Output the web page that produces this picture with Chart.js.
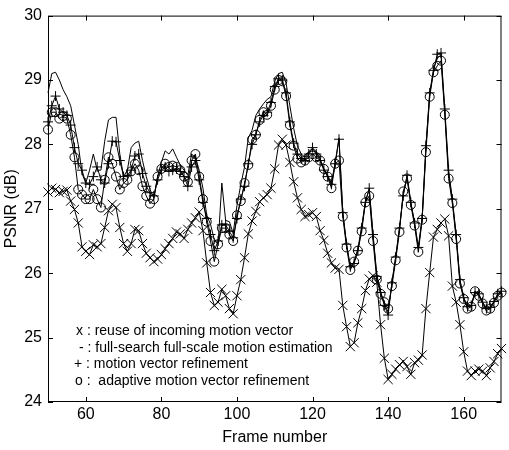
<!DOCTYPE html>
<html>
<head>
<meta charset="utf-8">
<title>PSNR per frame</title>
<script src="https://cdn.jsdelivr.net/npm/chart.js@4.4.1/dist/chart.umd.min.js"></script>
<style>
  html, body { margin: 0; padding: 0; background: #fff; }
  canvas { display: block; }
</style>
</head>
<body>
<canvas id="psnrChart" width="509" height="450"></canvas>
<script>
// frame numbers (x axis)
const frames = [
  50, 51, 52, 53, 54, 55, 56, 57, 58, 59, 60, 61, 62, 63, 64, 65, 66, 67, 68, 69,
  70, 71, 72, 73, 74, 75, 76, 77, 78, 79, 80, 81, 82, 83, 84, 85, 86, 87, 88, 89,
  90, 91, 92, 93, 94, 95, 96, 97, 98, 99, 100, 101, 102, 103, 104, 105, 106, 107, 108, 109,
  110, 111, 112, 113, 114, 115, 116, 117, 118, 119, 120, 121, 122, 123, 124, 125, 126, 127, 128, 129,
  130, 131, 132, 133, 134, 135, 136, 137, 138, 139, 140, 141, 142, 143, 144, 145, 146, 147, 148, 149,
  150, 151, 152, 153, 154, 155, 156, 157, 158, 159, 160, 161, 162, 163, 164, 165, 166, 167, 168, 169,
  170
];

// x : reuse of incoming motion vector
const reuseMv = [
  27.26, 27.32, 27.30, 27.25, 27.27, 27.29, 27.12, 26.99, 26.78, 26.41, 26.34, 26.29, 26.44, 26.41, 26.46, 26.71, 26.97, 27.07, 27.02, 26.71,
  26.46, 26.34, 26.46, 26.68, 26.66, 26.46, 26.31, 26.24, 26.18, 26.22, 26.29, 26.38, 26.46, 26.54, 26.64, 26.61, 26.54, 26.68, 26.78, 26.86,
  26.95, 26.66, 26.16, 25.70, 25.50, 25.55, 25.75, 25.65, 25.45, 25.37, 25.65, 25.90, 26.24, 26.61, 26.81, 26.96, 27.11, 27.17, 27.22, 27.32,
  27.62, 27.99, 28.08, 27.99, 27.72, 27.42, 27.17, 26.99, 26.88, 26.91, 26.94, 26.88, 26.66, 26.51, 26.31, 26.16, 26.08, 26.06, 25.50, 25.17,
  24.86, 24.92, 25.23, 25.45, 25.73, 25.91, 25.96, 25.86, 25.20, 24.68, 24.35, 24.43, 24.51, 24.58, 24.63, 24.55, 24.43, 24.61, 24.65, 24.73,
  25.45, 26.01, 26.56, 26.68, 26.78, 26.84, 26.58, 25.80, 25.55, 25.20, 24.78, 24.48, 24.41, 24.48, 24.51, 24.48, 24.41, 24.53, 24.63, 24.75,
  24.83
];

// - : full-search full-scale motion estimation
const fullSearch = [
  28.80, 29.10, 29.12, 29.00, 28.85, 28.74, 28.60, 28.30, 28.00, 27.55, 27.40, 27.60, 27.85, 27.60, 27.60, 28.05, 28.38, 28.42, 28.42, 27.85,
  27.50, 27.60, 27.95, 28.02, 28.05, 27.75, 27.50, 27.30, 27.17, 27.50, 27.72, 27.90, 27.85, 27.93, 27.80, 27.68, 27.60, 27.52, 27.85, 27.80,
  27.60, 27.32, 26.90, 26.76, 26.52, 26.45, 27.40, 26.82, 26.80, 26.62, 27.05, 27.37, 27.65, 28.10, 28.22, 28.45, 28.55, 28.63, 28.70, 28.74,
  28.98, 29.10, 29.12, 28.95, 28.60, 28.25, 27.98, 27.85, 27.80, 27.88, 27.90, 27.88, 27.78, 27.62, 27.52, 27.40, 27.72, 28.10, 26.95, 26.45,
  26.10, 26.18, 26.38, 26.72, 27.12, 27.30, 26.60, 25.98, 25.72, 25.52, 25.40, 25.85, 26.25, 26.70, 27.22, 27.50, 27.10, 26.78, 26.38, 26.85,
  27.95, 28.78, 29.15, 29.35, 29.38, 28.50, 27.55, 27.12, 26.58, 25.88, 25.62, 25.48, 25.50, 25.72, 25.66, 25.55, 25.45, 25.47, 25.56, 25.67,
  25.72
];

// + : motion vector refinement
const mvRefine = [
  28.35, 28.60, 28.75, 28.55, 28.50, 28.45, 28.30, 27.95, 27.70, 27.60, 27.40, 27.38, 27.50, 27.65, 27.45, 27.40, 27.70, 28.05, 28.04, 27.75,
  27.50, 27.52, 27.60, 27.82, 27.85, 27.55, 27.35, 27.25, 27.20, 27.45, 27.60, 27.65, 27.58, 27.60, 27.62, 27.58, 27.50, 27.35, 27.65, 27.75,
  27.45, 27.10, 26.85, 26.60, 26.35, 26.50, 26.75, 26.75, 26.65, 26.55, 26.85, 27.15, 27.35, 27.70, 28.00, 28.15, 28.35, 28.45, 28.50, 28.65,
  28.90, 29.02, 29.00, 28.80, 28.35, 28.02, 27.85, 27.78, 27.75, 27.85, 27.95, 27.85, 27.75, 27.60, 27.50, 27.38, 27.70, 28.08, 26.94, 26.45,
  26.10, 26.15, 26.35, 26.70, 27.10, 27.32, 26.60, 25.95, 25.70, 25.50, 25.35, 25.85, 26.25, 26.70, 27.20, 27.52, 27.10, 26.78, 26.40, 26.85,
  27.98, 28.80, 29.15, 29.40, 29.42, 28.55, 27.60, 27.15, 26.60, 25.90, 25.62, 25.48, 25.50, 25.70, 25.68, 25.55, 25.45, 25.47, 25.56, 25.68,
  25.72
];

// o : adaptive motion vector refinement
const adaptiveRefine = [
  28.23, 28.50, 28.50, 28.40, 28.44, 28.40, 28.15, 27.80, 27.30, 27.22, 27.15, 27.15, 27.30, 27.15, 27.02, 27.45, 27.80, 27.70, 27.50, 27.30,
  27.40, 27.45, 27.58, 27.70, 27.60, 27.35, 27.20, 27.08, 27.15, 27.50, 27.62, 27.70, 27.65, 27.67, 27.65, 27.60, 27.50, 27.42, 27.75, 27.85,
  27.50, 27.15, 26.80, 26.50, 26.18, 26.45, 26.70, 26.70, 26.60, 26.50, 26.90, 27.12, 27.40, 27.68, 28.08, 28.15, 28.38, 28.50, 28.46, 28.60,
  28.85, 29.00, 28.98, 28.75, 28.30, 27.98, 27.78, 27.72, 27.75, 27.80, 27.85, 27.80, 27.75, 27.62, 27.50, 27.32, 27.70, 27.75, 26.88, 26.40,
  26.05, 26.18, 26.35, 26.65, 27.10, 27.20, 26.50, 25.90, 25.68, 25.55, 25.45, 25.80, 26.20, 26.64, 27.27, 27.47, 27.06, 26.74, 26.33, 26.83,
  27.88, 28.74, 29.12, 29.22, 29.30, 28.46, 27.47, 27.09, 26.53, 25.84, 25.60, 25.45, 25.48, 25.72, 25.65, 25.53, 25.42, 25.45, 25.54, 25.65,
  25.70
];

const xTickLabels = [60, 80, 100, 120, 140, 160];
const yTickLabels = [24, 25, 26, 27, 28, 29, 30];

const legendLines = [
  "x : reuse of incoming motion vector",
  "- : full-search full-scale motion estimation",
  "+ : motion vector refinement",
  "o :  adaptive motion vector refinement",
];

const FONT = "'Liberation Sans', Arial, Helvetica, sans-serif";

// zet een reeks om naar {x, y} punten
const toPoints = (values) => frames.map((f, i) => ({ x: f, y: values[i] }));

// kader met tickjes naar binnen + legende tekst (matlab stijl)
const boxPlugin = {
  id: "box",
  afterDatasetsDraw(chart) {
    const { ctx, chartArea: a, scales } = chart;
    const tick = 5;
    ctx.save();
    ctx.strokeStyle = "#000";
    ctx.lineWidth = 1;
    ctx.strokeRect(a.left + 0.5, a.top + 0.5, a.right - a.left - 1, a.bottom - a.top - 1);

    ctx.beginPath();
    for (let v of xTickLabels) {
      const px = Math.round(scales.x.getPixelForValue(v)) + 0.5;
      ctx.moveTo(px, a.bottom);
      ctx.lineTo(px, a.bottom - tick);
      ctx.moveTo(px, a.top);
      ctx.lineTo(px, a.top + tick);
    }
    for (let v of yTickLabels) {
      const py = Math.round(scales.y.getPixelForValue(v)) + 0.5;
      ctx.moveTo(a.left, py);
      ctx.lineTo(a.left + tick, py);
      ctx.moveTo(a.right, py);
      ctx.lineTo(a.right - tick, py);
    }
    ctx.stroke();

    // legende
    ctx.fillStyle = "#000";
    ctx.font = "14px " + FONT;
    ctx.textBaseline = "middle";
    const lx = [76, 79, 74, 75];
    const ly = [331, 348, 364.5, 381];
    legendLines.forEach((line, i) => ctx.fillText(line, lx[i], ly[i]));
    ctx.restore();
  },
};

const drawChart = () => {
  Chart.defaults.font.family = FONT;
  Chart.defaults.font.size = 16;
  Chart.defaults.color = "#000";

  const common = {
    borderColor: "#000",
    backgroundColor: "rgba(0,0,0,0)",
    borderWidth: 1,
    pointBorderWidth: 1,
    pointBorderColor: "#000",
    pointBackgroundColor: "rgba(0,0,0,0)",
    tension: 0,
    clip: 8,
  };

  const ctx = document.getElementById("psnrChart");
  new Chart(ctx, {
    type: "line",
    data: {
      datasets: [
        { ...common, label: "reuse", data: toPoints(reuseMv), pointStyle: "crossRot", pointRadius: 6.5 },
        { ...common, label: "full-search", data: toPoints(fullSearch), pointRadius: 0 },
        { ...common, label: "refinement", data: toPoints(mvRefine), pointStyle: "cross", pointRadius: 5 },
        { ...common, label: "adaptive", data: toPoints(adaptiveRefine), pointStyle: "circle", pointRadius: 4.5 },
      ],
    },
    options: {
      responsive: false,
      animation: false,
      devicePixelRatio: 1,
      layout: { padding: { top: 14, right: 2, left: 0, bottom: 0 } },
      plugins: { legend: { display: false }, tooltip: { enabled: false } },
      scales: {
        x: {
          type: "linear",
          min: 50,
          max: 170,
          afterBuildTicks: (s) => { s.ticks = xTickLabels.map((v) => ({ value: v })); },
          afterFit: (s) => { s.height = 48; },
          grid: { display: false, drawTicks: false },
          border: { display: false },
          ticks: { padding: 3, maxRotation: 0 },
          title: { display: true, text: "Frame number", padding: { top: 0, bottom: 3 } },
        },
        y: {
          min: 24,
          max: 30,
          afterBuildTicks: (s) => { s.ticks = yTickLabels.map((v) => ({ value: v })); },
          afterFit: (s) => { s.width = 48; },
          grid: { display: false, drawTicks: false },
          border: { display: false },
          ticks: { padding: 6 },
          title: { display: true, text: "PSNR (dB)", padding: { top: 2, bottom: 0 } },
        },
      },
    },
    plugins: [boxPlugin],
  });
};

document.addEventListener("DOMContentLoaded", function () {
  drawChart();
});
</script>
</body>
</html>
